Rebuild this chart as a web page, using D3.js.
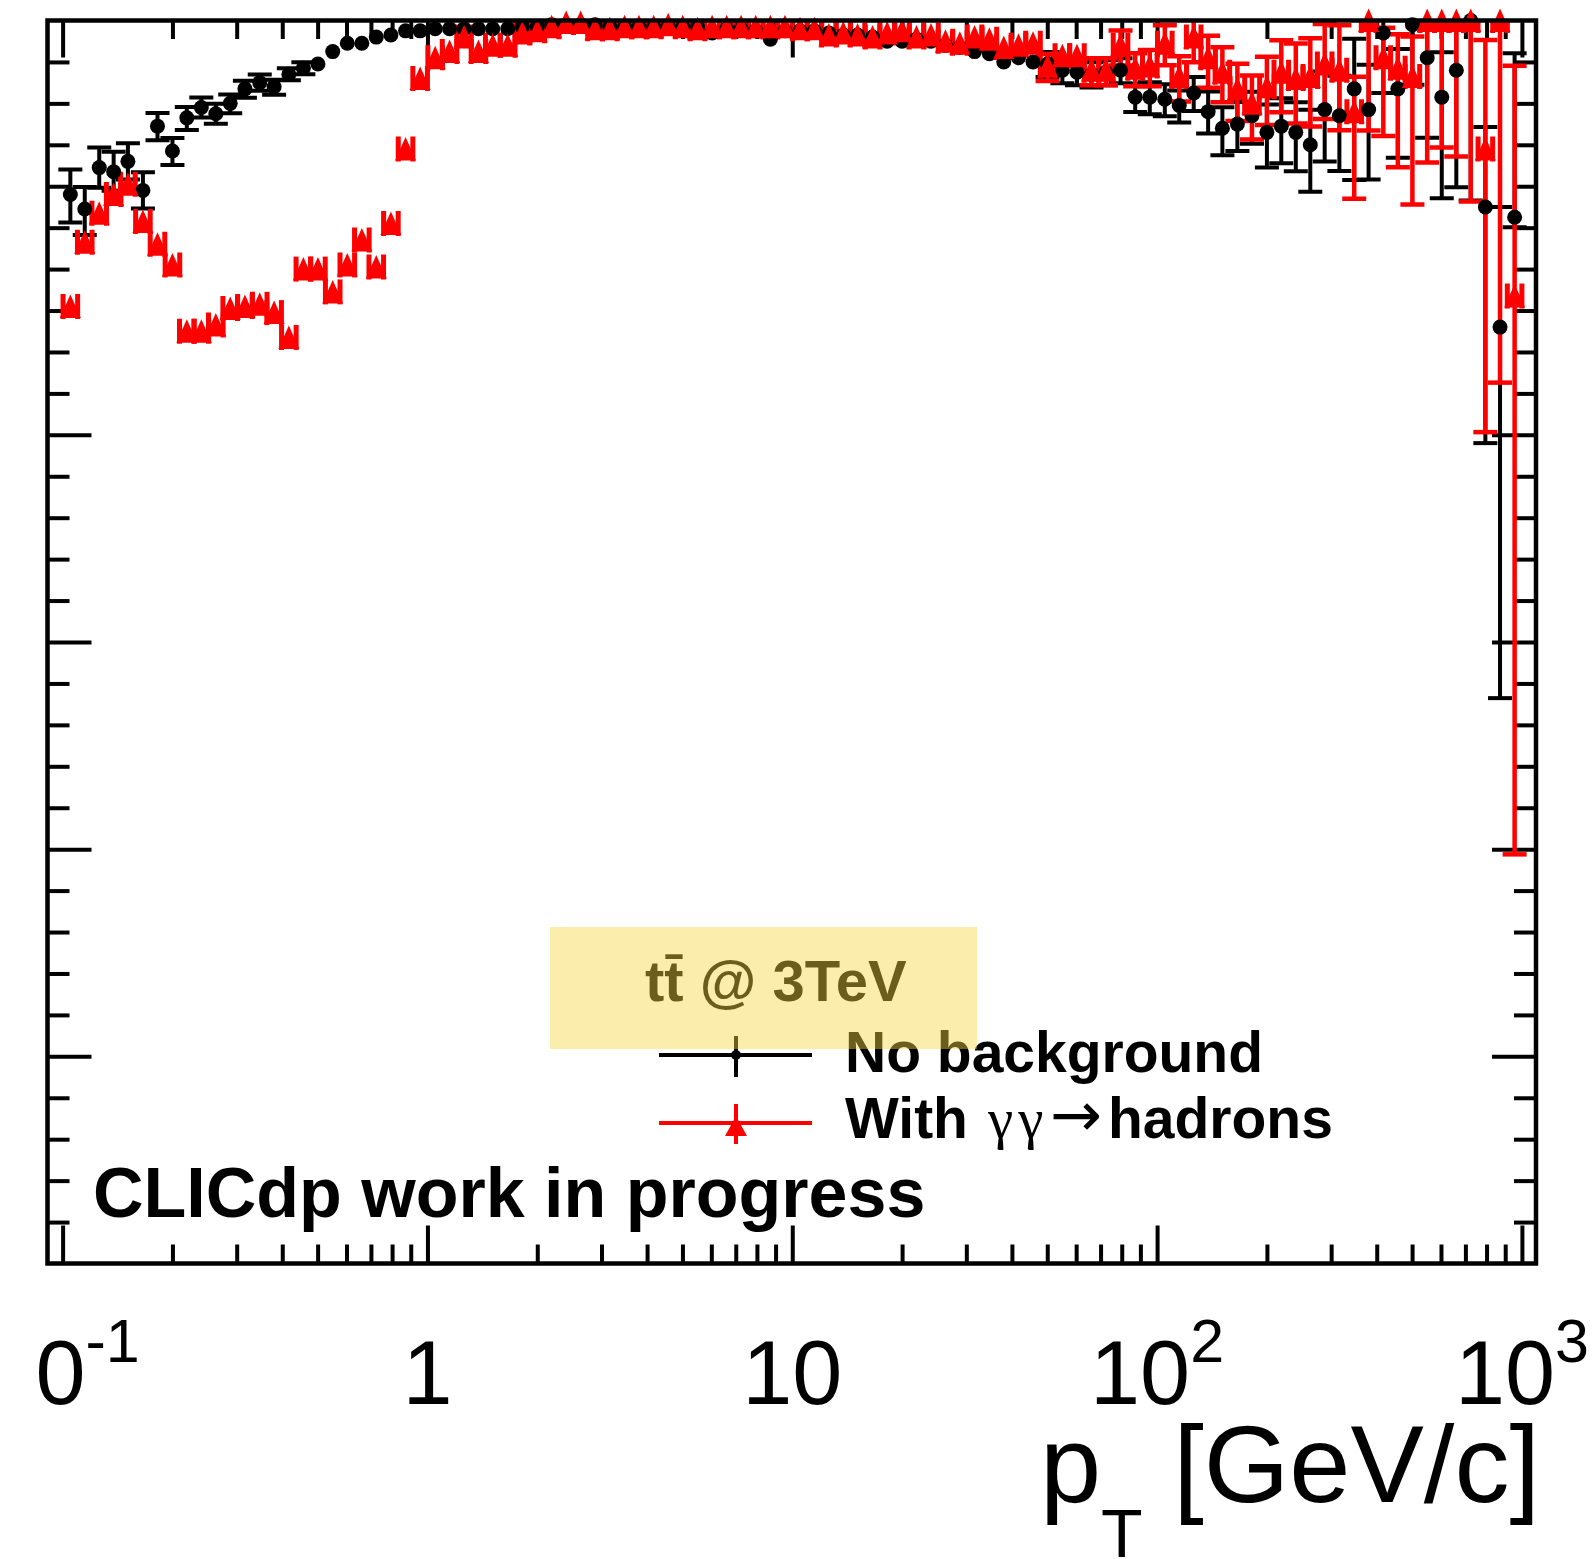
<!DOCTYPE html>
<html><head><meta charset="utf-8">
<script src="https://cdn.jsdelivr.net/npm/d3@7/dist/d3.min.js"></script>
<style>
html,body{margin:0;padding:0;background:#fff;}
svg{display:block;}
text{font-family:"Liberation Sans",Arial,Helvetica,sans-serif;white-space:pre;}
</style></head><body>
<svg id="chart" width="1593" height="1559" xmlns="http://www.w3.org/2000/svg"></svg>
<script>
// ---------------- data ----------------
const pT = [
 0.105,0.115,0.126,0.138,0.151,0.166,0.182,0.200,0.219,0.240,0.263,0.288,0.316,0.347,0.380,0.417,0.457,0.501,0.550,0.603,0.661,0.724,0.794,0.871,0.955,
 1.05,1.15,1.26,1.38,1.51,1.66,1.82,2.00,2.19,2.40,2.63,2.88,3.16,3.47,3.80,4.17,4.57,5.01,5.50,6.03,6.61,7.24,7.94,8.71,9.55,
 10.5,11.5,12.6,13.8,15.1,16.6,18.2,20.0,21.9,24.0,26.3,28.8,31.6,34.7,38.0,41.7,45.7,50.1,55.0,60.3,66.1,72.4,79.4,87.1,95.5,
 105,115,126,138,151,166,182,200,219,240,263,288,316,347,380,417,457,501,550,603,661,724,794,871,955];
const binHalfRatio = 1.0471; // log-bin half width (25 bins / decade)

const effNoBkg = [
 0.916,0.909,0.929,0.927,0.932,0.918,0.949,0.937,0.953,0.958,
 0.955,0.960,0.967,0.970,0.968,0.974,0.977,0.979,0.985,0.989,
 0.989,0.992,0.993,0.995,0.995,0.996,0.996,0.996,0.996,0.996,
 0.996,0.997,0.997,0.998,0.998,0.998,0.998,0.997,0.997,0.997,
 0.997,0.997,0.997,0.997,0.994,0.996,0.996,0.995,0.991,0.995,
 0.995,0.995,0.994,0.993,0.993,0.992,0.990,0.990,0.991,0.990,
 0.988,0.987,0.985,0.984,0.980,0.982,0.980,0.979,0.976,0.975,
 0.974,0.975,0.976,0.963,0.963,0.962,0.959,0.965,0.956,0.948,
 0.950,0.954,0.946,0.949,0.946,0.940,0.957,0.954,0.967,0.957,
 0.994,0.967,0.998,0.982,0.963,0.976,1.000,0.910,0.852,0.905];
const errNoBkgLo = [
 .0135,.0126,.0097,.0092,.0087,.0087,.0068,.0068,.0058,.0048,
 .0048,.0048,.0043,.0039,.0039,.0029,.0029,.0024,.0019,.0019,
 .0019,.0019,.0019,.0019,.0019,.0019,.0019,.0014,.0014,.0014,
 .0014,.0014,.0014,.0014,.0014,.0014,.0014,.0014,.0014,.0014,
 .0014,.0014,.0014,.0014,.0014,.0014,.0014,.0014,.0014,.0014,
 .0014,.0014,.0014,.0014,.0014,.0014,.0024,.0024,.0024,.0024,
 .0024,.0024,.0024,.0024,.0024,.0024,.0024,.0063,.0063,.0063,
 .0063,.0063,.0063,.0072,.0082,.0082,.0082,.0087,.0106,.0130,
 .0130,.0135,.0169,.0179,.0188,.0227,.0251,.0266,.0440,.0338,
 .0290,.0333,.0290,.0386,.0488,.0565,.0869,.1140,.1791,.0048];
const errNoBkgHi = [
 .0121,.0106,.0097,.0097,.0087,.0087,.0063,.0063,.0053,.0048,
 .0048,.0043,.0039,.0039,.0034,.0029,.0029,.0024,.0019,.0019,
 .0019,.0019,.0019,.0019,.0019,.0019,.0019,.0014,.0014,.0014,
 .0014,.0014,.0014,.0014,.0014,.0014,.0014,.0014,.0014,.0014,
 .0014,.0014,.0014,.0014,.0014,.0014,.0014,.0014,.0014,.0014,
 .0014,.0014,.0014,.0014,.0014,.0014,.0024,.0024,.0024,.0024,
 .0024,.0024,.0024,.0024,.0024,.0024,.0024,.0058,.0058,.0058,
 .0058,.0058,.0058,.0063,.0072,.0072,.0072,.0077,.0097,.0101,
 .0106,.0116,.0135,.0135,.0145,.0169,.0184,.0193,.0242,.0217,
 .0063,.0193,.0024,.0184,.0217,.0242,.0000,.0386,.0580,.0792];

const effWithBkg = [
 0.862,0.893,0.907,0.916,0.921,0.903,0.892,0.882,0.850,0.850,
 0.853,0.861,0.862,0.863,0.859,0.847,0.880,0.880,0.869,0.882,
 0.894,0.881,0.902,0.938,0.972,0.982,0.985,0.992,0.985,0.988,
 0.988,0.994,0.995,0.997,0.999,0.999,0.996,0.996,0.997,0.997,
 0.997,0.998,0.997,0.996,0.997,0.997,0.997,0.997,0.997,0.997,
 0.996,0.996,0.993,0.994,0.993,0.992,0.994,0.995,0.992,0.993,
 0.990,0.989,0.992,0.991,0.987,0.988,0.989,0.978,0.983,0.983,
 0.976,0.976,0.988,0.977,0.978,0.989,0.973,0.992,0.982,0.975,
 0.967,0.960,0.968,0.975,0.972,0.973,0.979,0.976,0.956,1.000,
 0.982,0.977,0.973,1.000,1.000,1.000,1.000,0.938,1.000,0.867];
const errWithBkgLo = [
 .0029,.0029,.0029,.0029,.0029,.0029,.0029,.0029,.0029,.0029,
 .0029,.0029,.0029,.0029,.0029,.0029,.0029,.0029,.0029,.0029,
 .0029,.0029,.0029,.0029,.0029,.0029,.0029,.0014,.0014,.0014,
 .0014,.0014,.0014,.0014,.0014,.0014,.0014,.0014,.0014,.0014,
 .0014,.0014,.0014,.0014,.0014,.0014,.0014,.0014,.0014,.0014,
 .0014,.0014,.0014,.0014,.0014,.0014,.0014,.0014,.0014,.0014,
 .0014,.0029,.0029,.0029,.0029,.0029,.0029,.0072,.0048,.0048,
 .0072,.0072,.0097,.0087,.0097,.0106,.0121,.0121,.0145,.0145,
 .0155,.0174,.0184,.0193,.0217,.0242,.0266,.0290,.0420,.0531,
 .0377,.0478,.0618,.0686,.0613,.0657,.0874,.1367,.1748,.2695];
const errWithBkgHi = [
 .0029,.0029,.0029,.0029,.0029,.0029,.0029,.0029,.0029,.0029,
 .0029,.0029,.0029,.0029,.0029,.0029,.0029,.0029,.0029,.0029,
 .0029,.0029,.0029,.0029,.0029,.0029,.0029,.0014,.0014,.0014,
 .0014,.0014,.0014,.0014,.0014,.0014,.0014,.0014,.0014,.0014,
 .0014,.0014,.0014,.0014,.0014,.0014,.0014,.0014,.0014,.0014,
 .0014,.0014,.0014,.0014,.0014,.0014,.0014,.0014,.0014,.0014,
 .0014,.0029,.0029,.0029,.0029,.0029,.0029,.0058,.0039,.0039,
 .0058,.0058,.0072,.0072,.0077,.0087,.0097,.0097,.0106,.0121,
 .0121,.0135,.0145,.0155,.0169,.0184,.0193,.0217,.0169,.0000,
 .0145,.0164,.0193,.0000,.0000,.0000,.0000,.0526,.0000,.1111];

const xMajorTicks = [0.1, 1, 10, 100, 1000];
const xTickBase = ["10", "1", "10", "10", "10"];
const xTickExp  = ["-1", "", "", "2", "3"];
const yMajorTicks = [0.5, 0.6, 0.7, 0.8];
const legendLabels = ["No background", "With "];
const titleText = "CLICdp work in progress";
const boxText = "tt\u0304 @ 3TeV";

// ---------------- layout ----------------
const X0 = 47.5, X1 = 1536, Y0 = 20.5, Y1 = 1263.5;
const svg = d3.select("#chart");
svg.append("rect").attr("width",1593).attr("height",1559).attr("fill","#fff");
const x = d3.scaleLog().domain([0.0909, 1093]).range([X0, X1]);
const y = d3.scaleLinear().domain([0.4, 1.0]).range([Y1, Y0]);

const defs = svg.append("defs");
defs.append("clipPath").attr("id","plotClip").append("rect")
  .attr("x",X0).attr("y",Y0).attr("width",X1-X0).attr("height",Y1-Y0);
defs.append("clipPath").attr("id","labelClip").append("rect")
  .attr("x",34).attr("y",0).attr("width",1593).attr("height",1559);

// minor ticks
const xMinorTicks = [];
[0.1,1,10,100].forEach(d => { for (let k=2;k<=9;k++) xMinorTicks.push(+(d*k).toPrecision(3)); });
const yMinorTicks = d3.range(21, 50).map(k => +(k*0.02).toFixed(2)).filter(v => !yMajorTicks.some(m => Math.abs(m-v) < 1e-6));

function tickAxis(axisGen, vals, size, tr){
  const g = svg.append("g").attr("transform", tr)
    .call(axisGen.tickValues(vals).tickSize(size).tickFormat(""));
  g.select(".domain").remove();
  g.selectAll(".tick line").attr("stroke","#000").attr("stroke-width",4);
  g.selectAll(".tick text").remove();
}
tickAxis(d3.axisTop(x), xMajorTicks, 38, `translate(0,${Y1})`);
tickAxis(d3.axisTop(x), xMinorTicks, 19, `translate(0,${Y1})`);
tickAxis(d3.axisBottom(x), xMajorTicks, 37, `translate(0,${Y0})`);
tickAxis(d3.axisBottom(x), xMinorTicks, 18.5, `translate(0,${Y0})`);
tickAxis(d3.axisRight(y), yMajorTicks, 44, `translate(${X0},0)`);
tickAxis(d3.axisRight(y), yMinorTicks, 22, `translate(${X0},0)`);
tickAxis(d3.axisLeft(y), yMajorTicks, 44, `translate(${X1},0)`);
tickAxis(d3.axisLeft(y), yMinorTicks, 22, `translate(${X1},0)`);

// ---------------- data drawing ----------------
const idx = d3.range(pT.length);
const plot = svg.append("g").attr("clip-path","url(#plotClip)");

function errorBars(g, eff, lo, hi, color, thr, lw){
  const segs = [];
  idx.forEach(i => {
    const cx = x(pT[i]), cy = y(eff[i]);
    const yl = y(eff[i]-lo[i]), yh = y(eff[i]+hi[i]);
    if (yl - cy > thr) segs.push({cx, y1:cy, y2:yl});
    if (cy - yh > thr) segs.push({cx, y1:cy, y2:yh});
  });
  g.selectAll(null).data(segs).join("line")
    .attr("x1",d=>d.cx).attr("x2",d=>d.cx).attr("y1",d=>d.y1).attr("y2",d=>d.y2)
    .attr("stroke",color).attr("stroke-width",lw);
  g.selectAll(null).data(segs).join("line")
    .attr("x1",d=>d.cx-12).attr("x2",d=>d.cx+12).attr("y1",d=>d.y2).attr("y2",d=>d.y2)
    .attr("stroke",color).attr("stroke-width",lw);
}

// No background (black)
const gBlackErr = plot.append("g");
errorBars(gBlackErr, effNoBkg, errNoBkgLo, errNoBkgHi, "#000", 6, 4);
svg.append("g").selectAll("circle").data(idx).join("circle")
  .attr("cx", i => x(pT[i])).attr("cy", i => y(effNoBkg[i])).attr("r", 7.5).attr("fill","#000");

// With gamma gamma -> hadrons (red)
const gRedErr = plot.append("g");
errorBars(gRedErr, effWithBkg, errWithBkgLo, errWithBkgHi, "#ff0000", 12, 4.5);
// horizontal error end caps (bin edges)
gRedErr.selectAll(null).data(idx.flatMap(i => [[i, pT[i]/binHalfRatio],[i, pT[i]*binHalfRatio]])).join("line")
  .attr("x1", d => x(d[1])).attr("x2", d => x(d[1]))
  .attr("y1", d => y(effWithBkg[d[0]]) - 12.5).attr("y2", d => y(effWithBkg[d[0]]) + 12.5)
  .attr("stroke","#ff0000").attr("stroke-width",5);
svg.append("g").selectAll("path").data(idx).join("path")
  .attr("d", i => { const cx = x(pT[i]), cy = y(effWithBkg[i]);
     return `M${cx},${cy-12}L${cx+10.5},${cy+11.5}L${cx-10.5},${cy+11.5}Z`; })
  .attr("fill","#ff0000");

// frame
svg.append("rect").attr("x",X0).attr("y",Y0).attr("width",X1-X0).attr("height",Y1-Y0)
  .attr("fill","none").attr("stroke","#000").attr("stroke-width",4.5);

// ---------------- axis labels ----------------
const lab = svg.append("g").attr("clip-path","url(#labelClip)");
xMajorTicks.forEach((v,k) => {
  const t = lab.append("text").attr("x", x(v)).attr("y", 1404)
    .attr("text-anchor","middle").attr("font-size",90).attr("fill","#000");
  t.append("tspan").text(xTickBase[k]);
  if (xTickExp[k]) t.append("tspan").attr("font-size",61).attr("dy",-42).text(xTickExp[k]);
});
const at = svg.append("text").attr("x",1540).attr("y",1502).attr("text-anchor","end")
  .attr("font-size",110).attr("fill","#000");
at.append("tspan").text("p");
at.append("tspan").attr("font-size",68).attr("dy",55).text("T");
at.append("tspan").attr("dy",-55).text(" [GeV/c]");

// ---------------- legend ----------------
const leg = svg.append("g");
leg.append("line").attr("x1",659).attr("x2",812).attr("y1",1055).attr("y2",1055).attr("stroke","#000").attr("stroke-width",4);
leg.append("line").attr("x1",736).attr("x2",736).attr("y1",1036).attr("y2",1077).attr("stroke","#000").attr("stroke-width",4);
leg.append("circle").attr("cx",736).attr("cy",1055).attr("r",5).attr("fill","#000");
leg.append("line").attr("x1",659).attr("x2",812).attr("y1",1123).attr("y2",1123).attr("stroke","#ff0000").attr("stroke-width",4);
leg.append("line").attr("x1",736).attr("x2",736).attr("y1",1104).attr("y2",1144).attr("stroke","#ff0000").attr("stroke-width",4);
leg.append("path").attr("d","M736,1116L747,1136L725,1136Z").attr("fill","#ff0000");
leg.append("text").attr("x",845).attr("y",1072).attr("font-size",57).attr("font-weight","bold").text(legendLabels[0]);
const l2 = leg.append("text").attr("x",845).attr("y",1138).attr("font-size",57).attr("font-weight","bold");
l2.append("tspan").text(legendLabels[1]);
l2.append("tspan").attr("x",988).attr("font-family","'Liberation Serif','DejaVu Serif',serif").attr("font-weight","normal").attr("letter-spacing",5).text("\u03b3\u03b3");
l2.append("tspan").attr("x",1050).attr("dy",-2).attr("font-family","'DejaVu Sans',sans-serif").attr("font-weight","normal").attr("font-size",62).text("\u2192");
l2.append("tspan").attr("x",1108).attr("dy",2).text("hadrons");

svg.append("text").attr("x",93).attr("y",1217).attr("font-size",70).attr("font-weight","bold").text(titleText);

// yellow translucent box with process label
svg.append("text").attr("x",645).attr("y",1001).attr("font-size",58).attr("font-weight","bold").text(boxText);
svg.append("rect").attr("x",550).attr("y",927).attr("width",427).attr("height",122)
  .attr("fill","rgb(246,216,64)").attr("fill-opacity",0.435);
</script></body></html>
